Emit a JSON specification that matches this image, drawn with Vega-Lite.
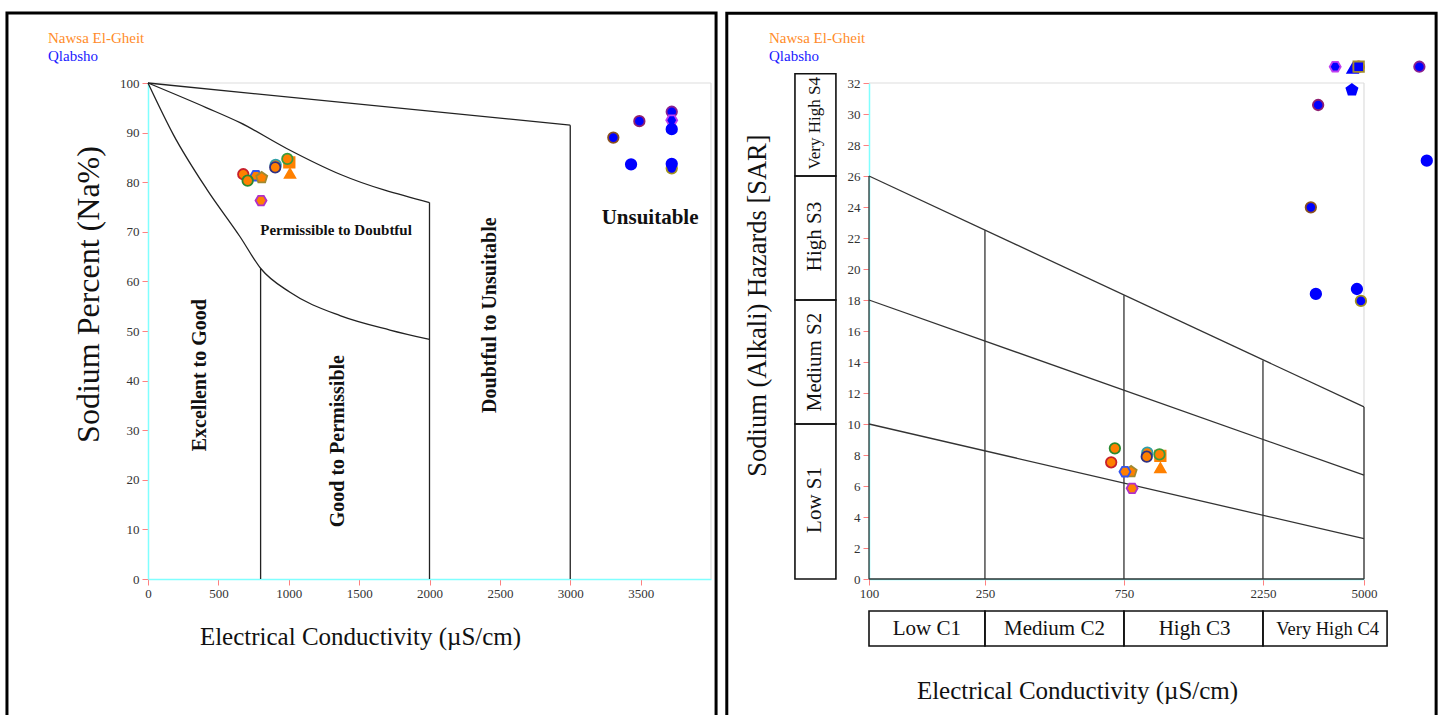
{
  "$schema": "https://vega.github.io/schema/vega-lite/v6.json",
  "width": 1440,
  "height": 715,
  "autosize": "none",
  "padding": 0,
  "background": "white",
  "config": {
    "view": {"stroke": null},
    "axis": {"grid": false, "labelFont": "Liberation Serif", "titleFont": "Liberation Serif", "titleFontWeight": "normal", "domainColor": "#80ffff", "domainWidth": 1.5, "tickColor": "#ff8080", "tickSize": 6, "tickWidth": 1, "labelFontSize": 13, "labelColor": "#333333", "titleColor": "#111111", "labelPadding": 2, "labelOverlap": false, "labelFlush": false},
    "legend": {"labelFont": "Liberation Serif", "labelFontSize": 15},
    "text": {"font": "Liberation Serif"}
  },
  "datasets": {
    "wilcox_pts": [
      {"site": "Nawsa El-Gheit", "sample": "N1", "ec": 677, "na": 81.6},
      {"site": "Nawsa El-Gheit", "sample": "N3", "ec": 767, "na": 81.3},
      {"site": "Nawsa El-Gheit", "sample": "N4", "ec": 808, "na": 80.9},
      {"site": "Nawsa El-Gheit", "sample": "N2", "ec": 708, "na": 80.3},
      {"site": "Nawsa El-Gheit", "sample": "N5", "ec": 803, "na": 76.3},
      {"site": "Nawsa El-Gheit", "sample": "N6", "ec": 907, "na": 83.5},
      {"site": "Nawsa El-Gheit", "sample": "N7", "ec": 904, "na": 83.0},
      {"site": "Nawsa El-Gheit", "sample": "N9", "ec": 1004, "na": 84.0},
      {"site": "Nawsa El-Gheit", "sample": "N8", "ec": 990, "na": 84.7},
      {"site": "Nawsa El-Gheit", "sample": "N10", "ec": 1009, "na": 81.8},
      {"site": "Qlabsho", "sample": "Q1", "ec": 3306, "na": 89.0},
      {"site": "Qlabsho", "sample": "Q2", "ec": 3491, "na": 92.3},
      {"site": "Qlabsho", "sample": "Q3", "ec": 3721, "na": 94.2},
      {"site": "Qlabsho", "sample": "Q4", "ec": 3721, "na": 92.5},
      {"site": "Qlabsho", "sample": "Q5", "ec": 3721, "na": 90.7},
      {"site": "Qlabsho", "sample": "Q6", "ec": 3432, "na": 83.6},
      {"site": "Qlabsho", "sample": "Q8", "ec": 3721, "na": 82.8},
      {"site": "Qlabsho", "sample": "Q7", "ec": 3721, "na": 83.7}
    ],
    "ussl_pts": [
      {"site": "Nawsa El-Gheit", "sample": "N2", "ec": 698, "sar": 8.43},
      {"site": "Nawsa El-Gheit", "sample": "N1", "ec": 678, "sar": 7.53},
      {"site": "Nawsa El-Gheit", "sample": "N4", "ec": 794, "sar": 6.92},
      {"site": "Nawsa El-Gheit", "sample": "N3", "ec": 756, "sar": 6.92},
      {"site": "Nawsa El-Gheit", "sample": "N5", "ec": 800, "sar": 5.85},
      {"site": "Nawsa El-Gheit", "sample": "N6", "ec": 902, "sar": 8.15},
      {"site": "Nawsa El-Gheit", "sample": "N7", "ec": 898, "sar": 7.89},
      {"site": "Nawsa El-Gheit", "sample": "N9", "ec": 1000, "sar": 7.95},
      {"site": "Nawsa El-Gheit", "sample": "N8", "ec": 993, "sar": 8.04},
      {"site": "Nawsa El-Gheit", "sample": "N10", "ec": 1000, "sar": 7.18},
      {"site": "Qlabsho", "sample": "Q4", "ec": 3982, "sar": 33.05},
      {"site": "Qlabsho", "sample": "Q12", "ec": 4571, "sar": 32.95},
      {"site": "Qlabsho", "sample": "Q10", "ec": 4793, "sar": 33.05},
      {"site": "Qlabsho", "sample": "Q11", "ec": 4793, "sar": 33.05},
      {"site": "Qlabsho", "sample": "Q3", "ec": 7745, "sar": 33.05},
      {"site": "Qlabsho", "sample": "Q9", "ec": 4545, "sar": 31.55},
      {"site": "Qlabsho", "sample": "Q2", "ec": 3480, "sar": 30.58},
      {"site": "Qlabsho", "sample": "Q5", "ec": 8213, "sar": 26.99},
      {"site": "Qlabsho", "sample": "Q1", "ec": 3285, "sar": 23.98},
      {"site": "Qlabsho", "sample": "Q6", "ec": 3418, "sar": 18.39},
      {"site": "Qlabsho", "sample": "Q7", "ec": 4728, "sar": 18.71},
      {"site": "Qlabsho", "sample": "Q8", "ec": 4880, "sar": 17.94}
    ],
    "wilcox_curves": [
      {"curve": "a", "ec": 0, "na": 100}, {"curve": "a", "ec": 3000, "na": 91.5},
      {"curve": "b", "ec": 0, "na": 100}, {"curve": "b", "ec": 417, "na": 95.0}, {"curve": "b", "ec": 654, "na": 92.0}, {"curve": "b", "ec": 985, "na": 86.8}, {"curve": "b", "ec": 1364, "na": 81.6}, {"curve": "b", "ec": 2000, "na": 75.9},
      {"curve": "c", "ec": 0, "na": 100}, {"curve": "c", "ec": 180, "na": 89.6}, {"curve": "c", "ec": 417, "na": 78.6}, {"curve": "c", "ec": 654, "na": 69.0}, {"curve": "c", "ec": 801, "na": 62.6}, {"curve": "c", "ec": 1009, "na": 57.8}, {"curve": "c", "ec": 1364, "na": 53.1}, {"curve": "c", "ec": 1719, "na": 50.2}, {"curve": "c", "ec": 2000, "na": 48.3}
    ],
    "wilcox_rules": [
      {"x": 800, "x2": 800, "y": 0, "y2": 62.6},
      {"x": 2000, "x2": 2000, "y": 0, "y2": 75.9},
      {"x": 3000, "x2": 3000, "y": 0, "y2": 91.5}
    ],
    "wilcox_border": [
      {"x": 0, "x2": 4000, "y": 100, "y2": 100},
      {"x": 4000, "x2": 4000, "y": 0, "y2": 100}
    ],
    "wilcox_zones": [
      {"label": "Excellent to Good", "ec": 369, "na": 41.1},
      {"label": "Good to Permissible", "ec": 1350, "na": 27.8},
      {"label": "Doubtful to Unsuitable", "ec": 2430, "na": 53.2},
      {"label": "Permissible to Doubtful", "ec": 1336, "na": 70.4},
      {"label": "Unsuitable", "ec": 3567, "na": 72.8}
    ],
    "ussl_rules": [
      {"x": 100, "x2": 5000, "y": 26, "y2": 11.1},
      {"x": 100, "x2": 5000, "y": 18, "y2": 6.7},
      {"x": 100, "x2": 5000, "y": 10, "y2": 2.6},
      {"x": 100, "x2": 100, "y": 0, "y2": 26},
      {"x": 250, "x2": 250, "y": 0, "y2": 22.5},
      {"x": 750, "x2": 750, "y": 0, "y2": 18.3},
      {"x": 2250, "x2": 2250, "y": 0, "y2": 14.1},
      {"x": 5000, "x2": 5000, "y": 0, "y2": 11.1},
      {"x": 100, "x2": 5000, "y": 0, "y2": 0}
    ],
    "ussl_border": [
      {"x": 100, "x2": 5000, "y": 32, "y2": 32},
      {"x": 5000, "x2": 5000, "y": 0, "y2": 32}
    ],
    "ussl_s": [
      {"label": "Very High S4", "lo": 26, "hi": 32.6, "mid": 29.4},
      {"label": "High S3", "lo": 18, "hi": 26, "mid": 22.1},
      {"label": "Medium S2", "lo": 10, "hi": 18, "mid": 14.0},
      {"label": "Low S1", "lo": 0, "hi": 10, "mid": 5.1}
    ],
    "ussl_c": [
      {"label": "Low C1", "lo": 100, "hi": 250, "mid": 158},
      {"label": "Medium C2", "lo": 250, "hi": 750, "mid": 433},
      {"label": "High C3", "lo": 750, "hi": 2250, "mid": 1310},
      {"label": "Very High C4", "lo": 2250, "hi": 6000, "mid": 3750}
    ],
    "frame": [{"panel": "frame"}]
  },
  "layer": [
    {
      "layer": [
        {
          "data": {"name": "frame"},
          "mark": {"type": "rect", "fillOpacity": 0, "stroke": "#000000", "strokeWidth": 3},
          "encoding": {
            "x": {"datum": -1002, "scale": {"domain": [0, 4000], "range": [148, 711], "nice": false, "zero": false}},
            "x2": {"datum": 4036},
            "y": {"datum": 114.1, "scale": {"domain": [0, 100], "range": [579, 83], "nice": false}},
            "y2": {"datum": -29}
          }
        },
        {
          "data": {"name": "wilcox_border"},
          "mark": {"type": "rule", "color": "#dddddd", "strokeWidth": 1.2},
          "encoding": {
            "x": {"field": "x", "type": "quantitative", "scale": {"domain": [0, 4000], "range": [148, 711], "nice": false, "zero": false}},
            "x2": {"field": "x2"},
            "y": {"field": "y", "type": "quantitative", "scale": {"domain": [0, 100], "range": [579, 83], "nice": false}},
            "y2": {"field": "y2"}
          }
        },
        {
          "data": {"name": "wilcox_curves"},
          "mark": {"type": "line", "color": "#222222", "strokeWidth": 1.3, "interpolate": "monotone"},
          "encoding": {
            "x": {"field": "ec", "type": "quantitative", "scale": {"domain": [0, 4000], "range": [148, 711], "nice": false, "zero": false}},
            "y": {"field": "na", "type": "quantitative", "scale": {"domain": [0, 100], "range": [579, 83], "nice": false}},
            "detail": {"field": "curve", "type": "nominal"}
          }
        },
        {
          "data": {"name": "wilcox_rules"},
          "mark": {"type": "rule", "color": "#222222", "strokeWidth": 1.3},
          "encoding": {
            "x": {"field": "x", "type": "quantitative", "scale": {"domain": [0, 4000], "range": [148, 711], "nice": false, "zero": false}},
            "x2": {"field": "x2"},
            "y": {"field": "y", "type": "quantitative", "scale": {"domain": [0, 100], "range": [579, 83], "nice": false}},
            "y2": {"field": "y2"}
          }
        },
        {
          "data": {"name": "wilcox_zones"},
          "transform": [{"filter": "indexof(['Excellent to Good','Good to Permissible','Doubtful to Unsuitable'], datum.label) >= 0"}],
          "mark": {"type": "text", "angle": 270, "fontWeight": "bold", "fontSize": 20, "font": "Liberation Serif", "align": "center", "baseline": "middle", "color": "#111111"},
          "encoding": {
            "x": {"field": "ec", "type": "quantitative", "scale": {"domain": [0, 4000], "range": [148, 711], "nice": false, "zero": false}},
            "y": {"field": "na", "type": "quantitative", "scale": {"domain": [0, 100], "range": [579, 83], "nice": false}},
            "text": {"field": "label"}
          }
        },
        {
          "data": {"name": "wilcox_zones"},
          "transform": [{"filter": "datum.label === 'Permissible to Doubtful'"}],
          "mark": {"type": "text", "fontWeight": "bold", "fontSize": 15, "font": "Liberation Serif", "align": "center", "baseline": "middle", "color": "#111111"},
          "encoding": {
            "x": {"field": "ec", "type": "quantitative", "scale": {"domain": [0, 4000], "range": [148, 711], "nice": false, "zero": false}},
            "y": {"field": "na", "type": "quantitative", "scale": {"domain": [0, 100], "range": [579, 83], "nice": false}},
            "text": {"field": "label"}
          }
        },
        {
          "data": {"name": "wilcox_zones"},
          "transform": [{"filter": "datum.label === 'Unsuitable'"}],
          "mark": {"type": "text", "fontWeight": "bold", "fontSize": 21, "font": "Liberation Serif", "align": "center", "baseline": "middle", "color": "#111111"},
          "encoding": {
            "x": {"field": "ec", "type": "quantitative", "scale": {"domain": [0, 4000], "range": [148, 711], "nice": false, "zero": false}},
            "y": {"field": "na", "type": "quantitative", "scale": {"domain": [0, 100], "range": [579, 83], "nice": false}},
            "text": {"field": "label"}
          }
        },
        {
          "data": {"name": "wilcox_pts"},
          "mark": {"type": "point", "filled": true, "opacity": 1, "fillOpacity": 1, "strokeOpacity": 1, "size": 110, "strokeWidth": 1.8},
          "encoding": {
            "x": {"field": "ec", "type": "quantitative", "scale": {"domain": [0, 4000], "range": [148, 711], "nice": false, "zero": false},
              "axis": {"orient": "bottom", "offset": -136, "values": [0, 500, 1000, 1500, 2000, 2500, 3000, 3500], "format": "d", "title": "Electrical Conductivity (µS/cm)", "titleX": 360, "titleY": 57, "titleAlign": "center", "titleBaseline": "middle", "titleFontSize": 25}},
            "y": {"field": "na", "type": "quantitative", "scale": {"domain": [0, 100], "range": [579, 83], "nice": false},
              "axis": {"orient": "left", "offset": -148, "values": [0, 10, 20, 30, 40, 50, 60, 70, 80, 90, 100], "format": "d", "labelPadding": 3, "title": "Sodium Percent (Na%)", "titleX": -60, "titleY": 294, "titleAngle": 270, "titleAlign": "center", "titleBaseline": "middle", "titleFontSize": 32}},
            "fill": {"field": "site", "type": "nominal", "scale": {"domain": ["Nawsa El-Gheit", "Qlabsho"], "range": ["#ff8000", "#0000ff"]},
              "legend": {"orient": "none", "legendX": 33, "legendY": 30.5, "title": null, "symbolSize": 0, "symbolOpacity": 0, "symbolStrokeWidth": 0, "labelOffset": 0, "padding": 0, "rowPadding": 2, "labelFont": "Liberation Serif", "labelFontSize": 15,
                "encode": {"labels": {"update": {"fill": {"signal": "datum.label === 'Qlabsho' ? '#1a1aff' : '#ff8c2a'"}, "font": {"value": "Liberation Serif"}, "fontSize": {"value": 15}}}}}},
            "stroke": {"field": "sample", "type": "nominal", "legend": null,
              "scale": {"domain": ["N1", "N2", "N3", "N4", "N5", "N6", "N7", "N8", "N9", "N10", "Q1", "Q2", "Q3", "Q4", "Q5", "Q6", "Q7", "Q8", "Q9", "Q10", "Q11", "Q12"],
                "range": ["#c8202a", "#2a8a30", "#3355ee", "#a08a30", "#b030c8", "#30a0a8", "#303080", "#3c9a3c", "#ff8000", "#ff8000", "#8a5020", "#902070", "#8a2090", "#c040f0", "#0000ff", "#0000ff", "#0000ff", "#a09020", "#0000ff", "#c02020", "#a08a30", "#0000ff"]}},
            "shape": {"field": "sample", "type": "nominal", "legend": null,
              "scale": {"domain": ["N1", "N2", "N3", "N4", "N5", "N6", "N7", "N8", "N9", "N10", "Q1", "Q2", "Q3", "Q4", "Q5", "Q6", "Q7", "Q8", "Q9", "Q10", "Q11", "Q12"],
                "range": ["circle", "circle", "M1.05,0L0.525,0.909L-0.525,0.909L-1.05,0L-0.525,-0.909L0.525,-0.909Z", "M0,-1.1L1.046,-0.34L0.647,0.89L-0.647,0.89L-1.046,-0.34Z", "M1.05,0L0.525,0.909L-0.525,0.909L-1.05,0L-0.525,-0.909L0.525,-0.909Z", "circle", "circle", "circle", "square", "triangle-up", "circle", "circle", "circle", "M1.05,0L0.525,0.909L-0.525,0.909L-1.05,0L-0.525,-0.909L0.525,-0.909Z", "circle", "circle", "circle", "circle", "M0,-1.1L1.046,-0.34L0.647,0.89L-0.647,0.89L-1.046,-0.34Z", "circle", "square", "triangle-up"]}}
          }
        }
      ]
    },
    {
      "layer": [
        {
          "data": {"name": "frame"},
          "mark": {"type": "rect", "fillOpacity": 0, "stroke": "#000000", "strokeWidth": 3},
          "encoding": {
            "x": {"datum": 32.5, "scale": {"type": "log", "domain": [100, 5000], "range": [869, 1364], "nice": false}},
            "x2": {"datum": 8841},
            "y": {"datum": 36.5, "scale": {"domain": [0, 32], "range": [579, 83], "nice": false, "zero": false}},
            "y2": {"datum": -9.1}
          }
        },
        {
          "data": {"name": "ussl_border"},
          "mark": {"type": "rule", "color": "#dddddd", "strokeWidth": 1.2},
          "encoding": {
            "x": {"field": "x", "type": "quantitative", "scale": {"type": "log", "domain": [100, 5000], "range": [869, 1364], "nice": false}},
            "x2": {"field": "x2"},
            "y": {"field": "y", "type": "quantitative", "scale": {"domain": [0, 32], "range": [579, 83], "nice": false, "zero": false}},
            "y2": {"field": "y2"}
          }
        },
        {
          "data": {"name": "ussl_rules"},
          "mark": {"type": "rule", "color": "#333333", "strokeWidth": 1.3},
          "encoding": {
            "x": {"field": "x", "type": "quantitative", "scale": {"type": "log", "domain": [100, 5000], "range": [869, 1364], "nice": false}},
            "x2": {"field": "x2"},
            "y": {"field": "y", "type": "quantitative", "scale": {"domain": [0, 32], "range": [579, 83], "nice": false, "zero": false}},
            "y2": {"field": "y2"}
          }
        },
        {
          "data": {"name": "ussl_s"},
          "mark": {"type": "rect", "fillOpacity": 0, "stroke": "#111111", "strokeWidth": 1.6},
          "encoding": {
            "x": {"datum": 55.7, "scale": {"type": "log", "domain": [100, 5000], "range": [869, 1364], "nice": false}},
            "x2": {"datum": 77.0},
            "y": {"field": "lo", "type": "quantitative", "scale": {"domain": [0, 32], "range": [579, 83], "nice": false, "zero": false}},
            "y2": {"field": "hi"}
          }
        },
        {
          "data": {"name": "ussl_s"},
          "transform": [{"filter": "datum.label !== 'Very High S4'"}],
          "mark": {"type": "text", "angle": 270, "fontSize": 21, "font": "Liberation Serif", "align": "center", "baseline": "middle", "color": "#111111"},
          "encoding": {
            "x": {"datum": 65.5, "scale": {"type": "log", "domain": [100, 5000], "range": [869, 1364], "nice": false}},
            "y": {"field": "mid", "type": "quantitative", "scale": {"domain": [0, 32], "range": [579, 83], "nice": false, "zero": false}},
            "text": {"field": "label"}
          }
        },
        {
          "data": {"name": "ussl_s"},
          "transform": [{"filter": "datum.label === 'Very High S4'"}],
          "mark": {"type": "text", "angle": 270, "fontSize": 17, "font": "Liberation Serif", "align": "center", "baseline": "middle", "color": "#111111"},
          "encoding": {
            "x": {"datum": 65.5, "scale": {"type": "log", "domain": [100, 5000], "range": [869, 1364], "nice": false}},
            "y": {"field": "mid", "type": "quantitative", "scale": {"domain": [0, 32], "range": [579, 83], "nice": false, "zero": false}},
            "text": {"field": "label"}
          }
        },
        {
          "data": {"name": "ussl_c"},
          "mark": {"type": "rect", "fillOpacity": 0, "stroke": "#111111", "strokeWidth": 1.6},
          "encoding": {
            "x": {"field": "lo", "type": "quantitative", "scale": {"type": "log", "domain": [100, 5000], "range": [869, 1364], "nice": false}},
            "x2": {"field": "hi"},
            "y": {"datum": -2.06, "scale": {"domain": [0, 32], "range": [579, 83], "nice": false, "zero": false}},
            "y2": {"datum": -4.32}
          }
        },
        {
          "data": {"name": "ussl_c"},
          "transform": [{"filter": "datum.label !== 'Very High C4'"}],
          "mark": {"type": "text", "fontSize": 21, "font": "Liberation Serif", "align": "center", "baseline": "middle", "color": "#111111"},
          "encoding": {
            "x": {"field": "mid", "type": "quantitative", "scale": {"type": "log", "domain": [100, 5000], "range": [869, 1364], "nice": false}},
            "y": {"datum": -3.25, "scale": {"domain": [0, 32], "range": [579, 83], "nice": false, "zero": false}},
            "text": {"field": "label"}
          }
        },
        {
          "data": {"name": "ussl_c"},
          "transform": [{"filter": "datum.label === 'Very High C4'"}],
          "mark": {"type": "text", "fontSize": 18.5, "font": "Liberation Serif", "align": "center", "baseline": "middle", "color": "#111111"},
          "encoding": {
            "x": {"field": "mid", "type": "quantitative", "scale": {"type": "log", "domain": [100, 5000], "range": [869, 1364], "nice": false}},
            "y": {"datum": -3.25, "scale": {"domain": [0, 32], "range": [579, 83], "nice": false, "zero": false}},
            "text": {"field": "label"}
          }
        },
        {
          "data": {"name": "ussl_pts"},
          "mark": {"type": "point", "filled": true, "opacity": 1, "fillOpacity": 1, "strokeOpacity": 1, "size": 110, "strokeWidth": 1.8},
          "encoding": {
            "x": {"field": "ec", "type": "quantitative", "scale": {"type": "log", "domain": [100, 5000], "range": [869, 1364], "nice": false},
              "axis": {"orient": "bottom", "offset": -136, "values": [100, 250, 750, 2250, 5000], "format": "d", "title": "Electrical Conductivity (µS/cm)", "titleX": 1077, "titleY": 111, "titleAlign": "center", "titleBaseline": "middle", "titleFontSize": 25}},
            "y": {"field": "sar", "type": "quantitative", "scale": {"domain": [0, 32], "range": [579, 83], "nice": false, "zero": false},
              "axis": {"orient": "left", "offset": -869, "values": [0, 2, 4, 6, 8, 10, 12, 14, 16, 18, 20, 22, 24, 26, 28, 30, 32], "format": "d", "labelPadding": 3, "title": "Sodium (Alkali) Hazards [SAR]", "titleX": -112, "titleY": 305, "titleAngle": 270, "titleAlign": "center", "titleBaseline": "middle", "titleFontSize": 26.5}},
            "fill": {"field": "site", "type": "nominal", "scale": {"domain": ["Nawsa El-Gheit", "Qlabsho"], "range": ["#ff8000", "#0000ff"]},
              "legend": {"orient": "none", "legendX": 754, "legendY": 30.5, "title": null, "symbolSize": 0, "symbolOpacity": 0, "symbolStrokeWidth": 0, "labelOffset": 0, "padding": 0, "rowPadding": 2, "labelFont": "Liberation Serif", "labelFontSize": 15,
                "encode": {"labels": {"update": {"fill": {"signal": "datum.label === 'Qlabsho' ? '#1a1aff' : '#ff8c2a'"}, "font": {"value": "Liberation Serif"}, "fontSize": {"value": 15}}}}}},
            "stroke": {"field": "sample", "type": "nominal", "legend": null,
              "scale": {"domain": ["N1", "N2", "N3", "N4", "N5", "N6", "N7", "N8", "N9", "N10", "Q1", "Q2", "Q3", "Q4", "Q5", "Q6", "Q7", "Q8", "Q9", "Q10", "Q11", "Q12"],
                "range": ["#c8202a", "#2a8a30", "#3355ee", "#a08a30", "#b030c8", "#30a0a8", "#303080", "#3c9a3c", "#ff8000", "#ff8000", "#8a5020", "#902070", "#8a2090", "#c040f0", "#0000ff", "#0000ff", "#0000ff", "#a09020", "#0000ff", "#c02020", "#a08a30", "#0000ff"]}},
            "shape": {"field": "sample", "type": "nominal", "legend": null,
              "scale": {"domain": ["N1", "N2", "N3", "N4", "N5", "N6", "N7", "N8", "N9", "N10", "Q1", "Q2", "Q3", "Q4", "Q5", "Q6", "Q7", "Q8", "Q9", "Q10", "Q11", "Q12"],
                "range": ["circle", "circle", "M1.05,0L0.525,0.909L-0.525,0.909L-1.05,0L-0.525,-0.909L0.525,-0.909Z", "M0,-1.1L1.046,-0.34L0.647,0.89L-0.647,0.89L-1.046,-0.34Z", "M1.05,0L0.525,0.909L-0.525,0.909L-1.05,0L-0.525,-0.909L0.525,-0.909Z", "circle", "circle", "circle", "square", "triangle-up", "circle", "circle", "circle", "M1.05,0L0.525,0.909L-0.525,0.909L-1.05,0L-0.525,-0.909L0.525,-0.909Z", "circle", "circle", "circle", "circle", "M0,-1.1L1.046,-0.34L0.647,0.89L-0.647,0.89L-1.046,-0.34Z", "circle", "square", "triangle-up"]}}
          }
        }
      ]
    }
  ],
  "resolve": {
    "scale": {"x": "independent", "y": "independent", "fill": "independent"},
    "axis": {"x": "independent", "y": "independent"},
    "legend": {"fill": "independent"}
  }
}
